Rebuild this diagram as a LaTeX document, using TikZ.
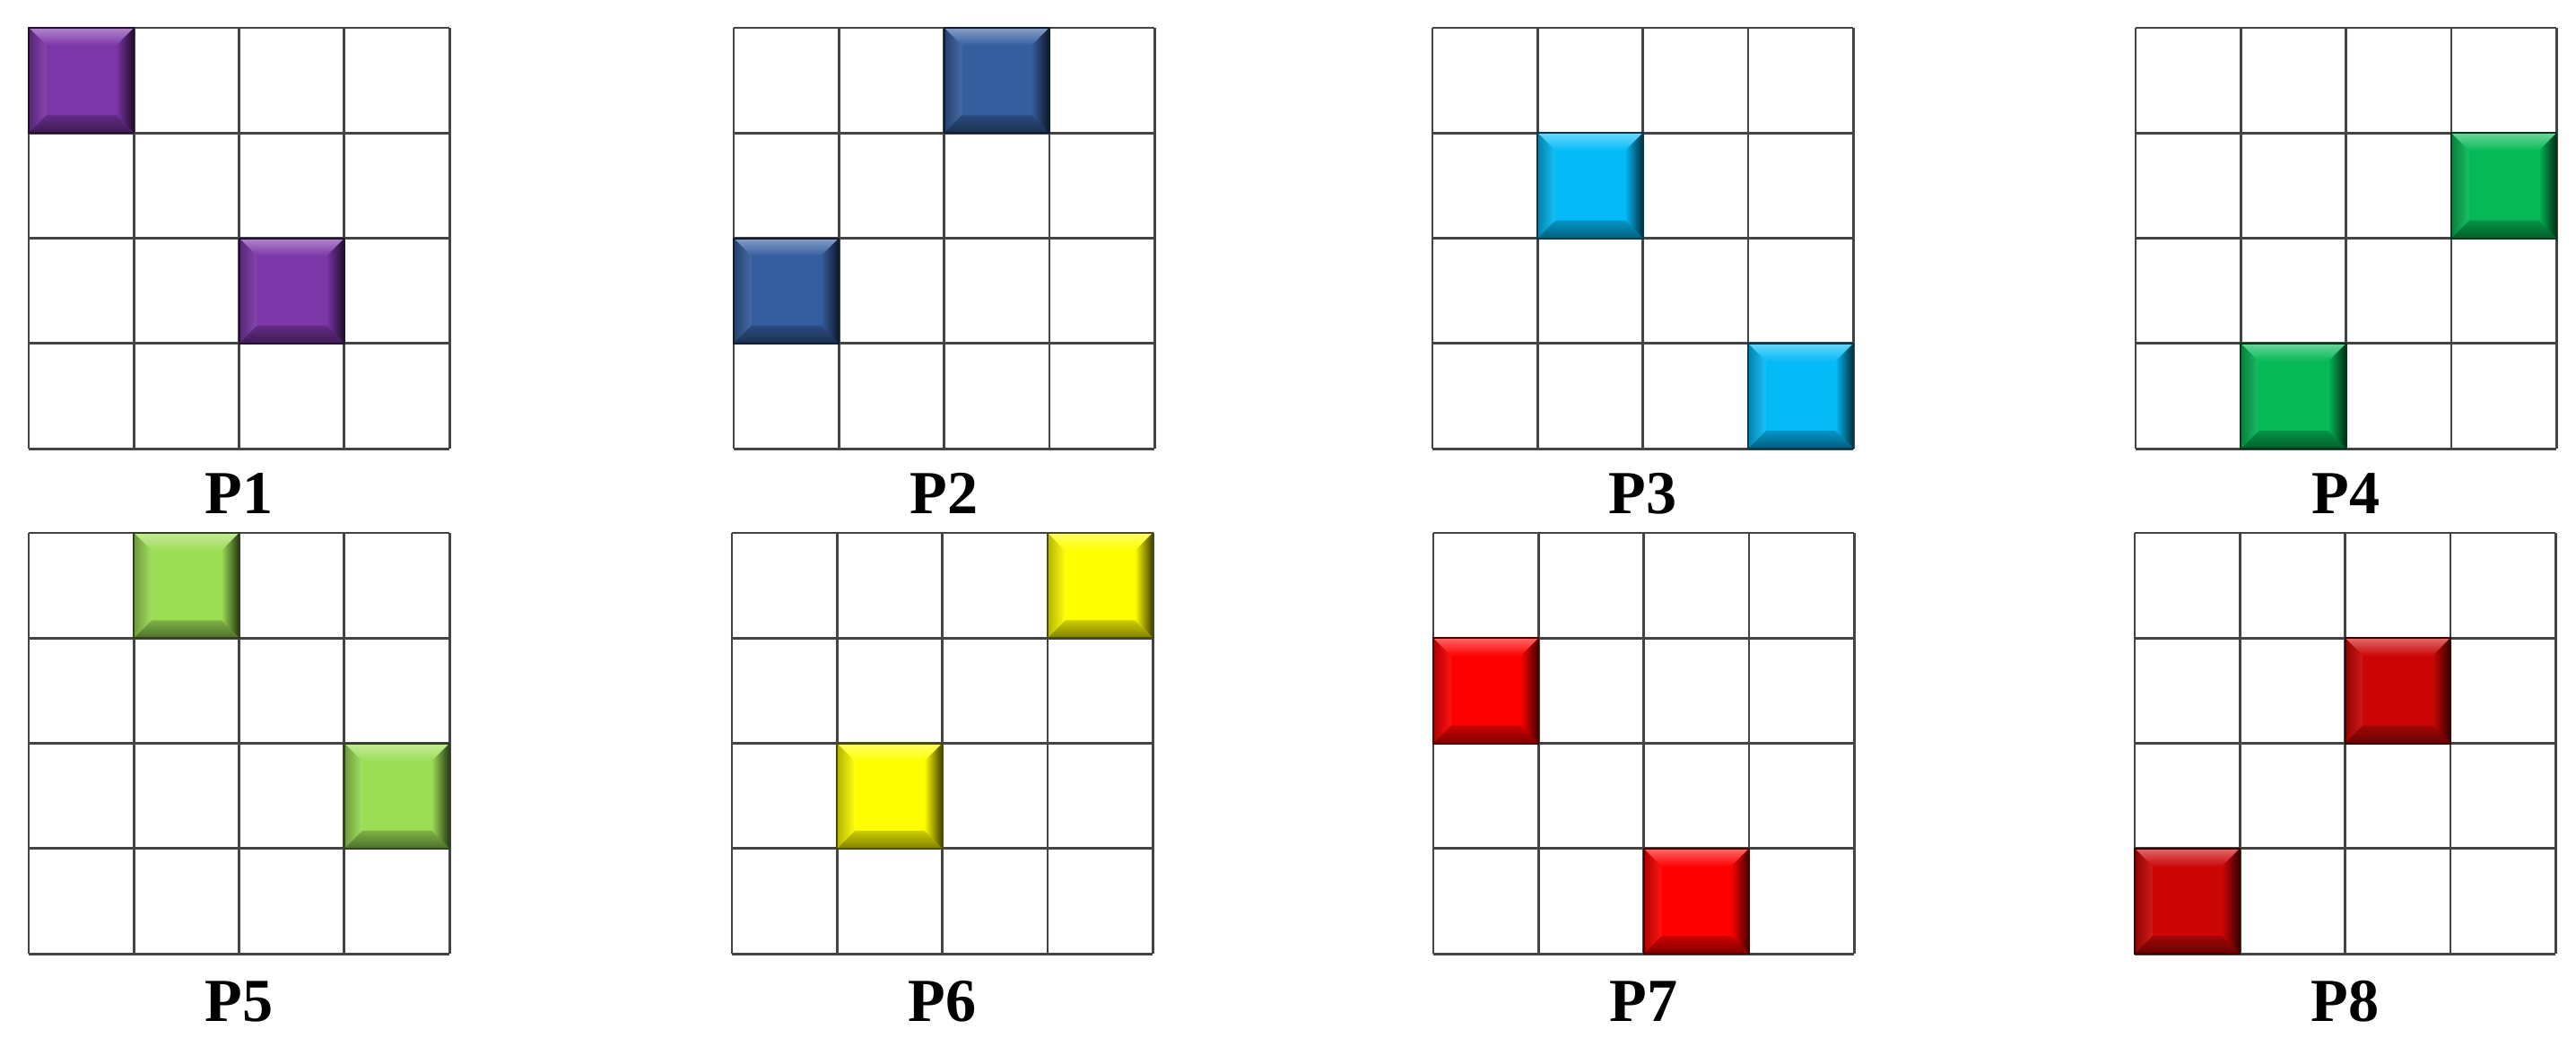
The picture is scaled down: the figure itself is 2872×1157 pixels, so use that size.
\documentclass[tikz,border=0pt]{standalone}
\usepackage{fontspec}
\setmainfont{Liberation Serif}
\definecolor{cpurple}{HTML}{7B36A8}
\definecolor{cblue}{HTML}{355E9E}
\definecolor{ccyan}{HTML}{04BBF7}
\definecolor{cgreen}{HTML}{06B957}
\definecolor{clime}{HTML}{9CDD56}
\definecolor{cyellow}{HTML}{FFFF00}
\definecolor{cred}{HTML}{FF0000}
\definecolor{cdkred}{HTML}{CC0606}
\definecolor{gridcol}{HTML}{444444}
\def\cellsz{117.3}
\def\bevw{20}
\newcommand\gridat[2]{% #1 left x, #2 top y
  \foreach \k in {0,...,4}{
    \draw[gridline] ({#1+\k*\cellsz},#2) -- ({#1+\k*\cellsz},{#2+4*\cellsz});
    \draw[gridline] (#1,{#2+\k*\cellsz}) -- ({#1+4*\cellsz},{#2+\k*\cellsz});
  }}
\newcommand\bvcell[5]{% #1 grid x, #2 grid y, #3 col, #4 row, #5 colour
  \begin{scope}[shift={({#1+#3*\cellsz},{#2+#4*\cellsz})}]
    \fill[#5] (0,0) rectangle (\cellsz,\cellsz);
    \shade[top color=#5!60!white, middle color=#5!65!white, bottom color=#5]
      (0,0) -- (\cellsz,0) -- ({\cellsz-\bevw},\bevw) -- (\bevw,\bevw) -- cycle;
    \shade[left color=#5!70!black, right color=#5!92!white]
      (0,0) -- (\bevw,\bevw) -- (\bevw,{\cellsz-\bevw}) -- (0,\cellsz) -- cycle;
    \shade[left color=#5, middle color=#5!85!black, right color=#5!25!black]
      (\cellsz,0) -- ({\cellsz-\bevw},\bevw) -- ({\cellsz-\bevw},{\cellsz-\bevw}) -- (\cellsz,\cellsz) -- cycle;
    \shade[top color=#5!80!black, bottom color=#5!50!black]
      (0,\cellsz) -- (\cellsz,\cellsz) -- ({\cellsz-\bevw},{\cellsz-\bevw}) -- (\bevw,{\cellsz-\bevw}) -- cycle;
    \draw[#5!30!black, line width=0.6pt] (0,0) rectangle (\cellsz,\cellsz);
  \end{scope}}
\begin{document}
\begin{tikzpicture}[x=0.1mm, y=-0.1mm,
  gridline/.style={draw=gridcol, line width=0.8pt},
  lab/.style={anchor=base, inner sep=0pt, font=\bfseries\fontsize{19.4}{23}\selectfont}]
\useasboundingbox[fill=white] (0,0) rectangle (2872,1157);
% grids
\gridat{32}{31}
\gridat{818}{31}
\gridat{1597}{31}
\gridat{2381}{31}
\gridat{32}{594}
\gridat{816}{594}
\gridat{1598}{594}
\gridat{2380}{594}
% coloured cells
\bvcell{32}{31}{0}{0}{cpurple}
\bvcell{32}{31}{2}{2}{cpurple}
\bvcell{818}{31}{2}{0}{cblue}
\bvcell{818}{31}{0}{2}{cblue}
\bvcell{1597}{31}{1}{1}{ccyan}
\bvcell{1597}{31}{3}{3}{ccyan}
\bvcell{2381}{31}{3}{1}{cgreen}
\bvcell{2381}{31}{1}{3}{cgreen}
\bvcell{32}{594}{1}{0}{clime}
\bvcell{32}{594}{3}{2}{clime}
\bvcell{816}{594}{3}{0}{cyellow}
\bvcell{816}{594}{1}{2}{cyellow}
\bvcell{1598}{594}{0}{1}{cred}
\bvcell{1598}{594}{2}{3}{cred}
\bvcell{2380}{594}{2}{1}{cdkred}
\bvcell{2380}{594}{0}{3}{cdkred}
% labels
\node[lab] (l1) at (266.6,572) {P1};
\node[lab] (l2) at (1052.6,572) {P2};
\node[lab] (l3) at (1831.6,572) {P3};
\node[lab] (l4) at (2615.6,572) {P4};
\node[lab] (l5) at (266.6,1138) {P5};
\node[lab] (l6) at (1050.6,1138) {P6};
\node[lab] (l7) at (1832.6,1138) {P7};
\node[lab] (l8) at (2614.6,1138) {P8};
\end{tikzpicture}
\end{document}
